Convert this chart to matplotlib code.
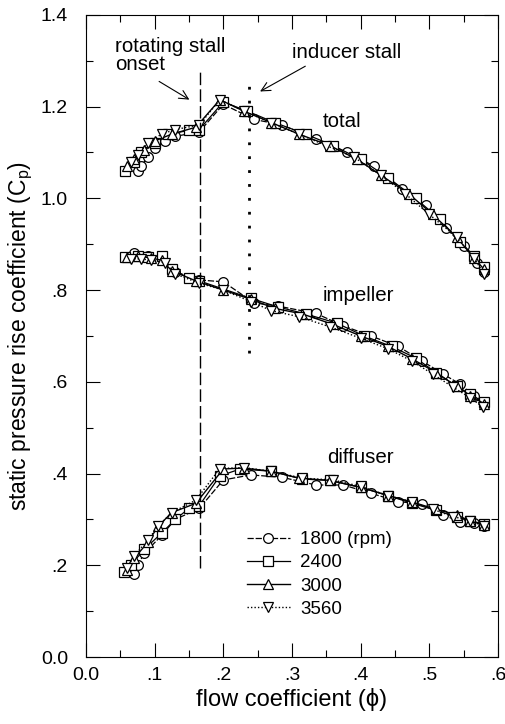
import matplotlib
matplotlib.use("Agg")
import matplotlib.pyplot as plt
from matplotlib.ticker import MultipleLocator, FixedLocator

plt.rcParams['font.family'] = ['Liberation Sans', 'DejaVu Sans']
plt.rcParams['mathtext.fontset'] = 'custom'
plt.rcParams['mathtext.rm'] = 'Liberation Sans'
plt.rcParams['mathtext.it'] = 'Liberation Sans:italic'

speeds = ['1800 (rpm)', '2400', '3000', '3560']

# total
tot_x_1800 = [0.075, 0.08, 0.09, 0.10, 0.115, 0.13, 0.165, 0.20, 0.245, 0.285, 0.335, 0.38, 0.42, 0.46, 0.495, 0.525, 0.55, 0.57, 0.58]
tot_y_1800 = [1.06, 1.07, 1.09, 1.11, 1.125, 1.135, 1.145, 1.205, 1.172, 1.16, 1.13, 1.10, 1.07, 1.02, 0.985, 0.935, 0.895, 0.86, 0.84]
tot_x_2400 = [0.057, 0.07, 0.08, 0.10, 0.12, 0.15, 0.165, 0.20, 0.235, 0.275, 0.32, 0.36, 0.40, 0.44, 0.48, 0.515, 0.545, 0.565, 0.58]
tot_y_2400 = [1.06, 1.08, 1.10, 1.12, 1.14, 1.148, 1.15, 1.21, 1.19, 1.165, 1.14, 1.115, 1.085, 1.045, 1.0, 0.955, 0.905, 0.875, 0.85]
tot_x_3000 = [0.06, 0.07, 0.085, 0.10, 0.125, 0.16, 0.195, 0.23, 0.27, 0.31, 0.355, 0.395, 0.43, 0.47, 0.505, 0.54, 0.565, 0.58]
tot_y_3000 = [1.07, 1.085, 1.105, 1.125, 1.14, 1.155, 1.215, 1.19, 1.165, 1.14, 1.115, 1.085, 1.05, 1.01, 0.965, 0.915, 0.87, 0.845]
tot_x_3560 = [0.065, 0.075, 0.09, 0.11, 0.13, 0.165, 0.195, 0.23, 0.27, 0.31, 0.35, 0.39, 0.43, 0.465, 0.50, 0.54, 0.565, 0.58]
tot_y_3560 = [1.08, 1.095, 1.12, 1.14, 1.15, 1.16, 1.215, 1.19, 1.165, 1.14, 1.115, 1.09, 1.05, 1.01, 0.965, 0.915, 0.87, 0.835]

# impeller
imp_x_1800 = [0.07, 0.09, 0.11, 0.13, 0.165, 0.20, 0.245, 0.28, 0.335, 0.375, 0.415, 0.455, 0.49, 0.52, 0.545, 0.565, 0.58]
imp_y_1800 = [0.88, 0.875, 0.87, 0.84, 0.822, 0.818, 0.772, 0.765, 0.749, 0.722, 0.70, 0.677, 0.645, 0.617, 0.595, 0.57, 0.553]
imp_x_2400 = [0.057, 0.075, 0.09, 0.11, 0.125, 0.15, 0.165, 0.24, 0.28, 0.32, 0.365, 0.405, 0.445, 0.48, 0.51, 0.54, 0.56, 0.58]
imp_y_2400 = [0.873, 0.875, 0.872, 0.875, 0.845, 0.826, 0.82, 0.782, 0.763, 0.748, 0.728, 0.70, 0.677, 0.652, 0.62, 0.59, 0.573, 0.555]
imp_x_3000 = [0.06, 0.075, 0.095, 0.11, 0.125, 0.16, 0.20, 0.24, 0.275, 0.315, 0.36, 0.40, 0.44, 0.475, 0.51, 0.54, 0.56, 0.58]
imp_y_3000 = [0.872, 0.874, 0.87, 0.865, 0.842, 0.82, 0.80, 0.78, 0.76, 0.748, 0.725, 0.70, 0.677, 0.65, 0.62, 0.59, 0.57, 0.552]
imp_x_3560 = [0.065, 0.08, 0.095, 0.115, 0.13, 0.165, 0.20, 0.24, 0.27, 0.31, 0.355, 0.40, 0.44, 0.475, 0.505, 0.535, 0.56, 0.578]
imp_y_3560 = [0.868, 0.868, 0.865, 0.86, 0.835, 0.815, 0.80, 0.775, 0.755, 0.742, 0.72, 0.695, 0.672, 0.645, 0.617, 0.588, 0.565, 0.545]

# diffuser
dif_x_1800 = [0.07, 0.075, 0.085, 0.11, 0.13, 0.165, 0.20, 0.24, 0.285, 0.335, 0.375, 0.415, 0.455, 0.49, 0.52, 0.545, 0.565, 0.58]
dif_y_1800 = [0.182, 0.20, 0.226, 0.265, 0.30, 0.324, 0.386, 0.397, 0.392, 0.375, 0.375, 0.357, 0.339, 0.333, 0.31, 0.295, 0.292, 0.285]
dif_x_2400 = [0.055, 0.065, 0.085, 0.11, 0.13, 0.15, 0.165, 0.195, 0.225, 0.27, 0.315, 0.355, 0.40, 0.44, 0.475, 0.51, 0.54, 0.56, 0.58]
dif_y_2400 = [0.186, 0.20, 0.235, 0.27, 0.30, 0.324, 0.33, 0.395, 0.41, 0.405, 0.388, 0.385, 0.37, 0.352, 0.335, 0.32, 0.305, 0.297, 0.29]
dif_x_3000 = [0.06, 0.07, 0.09, 0.105, 0.125, 0.16, 0.20, 0.23, 0.27, 0.31, 0.355, 0.40, 0.44, 0.475, 0.51, 0.54, 0.56, 0.58]
dif_y_3000 = [0.19, 0.215, 0.25, 0.285, 0.315, 0.335, 0.41, 0.412, 0.405, 0.39, 0.385, 0.37, 0.352, 0.338, 0.322, 0.31, 0.296, 0.288]
dif_x_3560 = [0.06, 0.07, 0.09, 0.105, 0.125, 0.16, 0.195, 0.23, 0.27, 0.315, 0.36, 0.40, 0.44, 0.475, 0.505, 0.535, 0.56, 0.58]
dif_y_3560 = [0.195, 0.22, 0.255, 0.285, 0.315, 0.342, 0.411, 0.413, 0.405, 0.39, 0.386, 0.372, 0.352, 0.338, 0.322, 0.306, 0.297, 0.285]

x_ticks = [0.0, 0.1, 0.2, 0.3, 0.4, 0.5, 0.6]
x_labels = ['0.0', '.1', '.2', '.3', '.4', '.5', '.6']
y_ticks = [0.0, 0.2, 0.4, 0.6, 0.8, 1.0, 1.2, 1.4]
y_labels = ['0.0', '.2', '.4', '.6', '.8', '1.0', '1.2', '1.4']

stall_onset_x = 0.166
inducer_stall_x = 0.237

fig = plt.figure(figsize=(5.06, 7.24), dpi=100)
ax = fig.add_axes([0.170, 0.0925, 0.814, 0.887])

styles = [
    dict(marker='o', linestyle=(0, (5, 1.5)), lw=0.9),
    dict(marker='s', linestyle='-', lw=0.9),
    dict(marker='^', linestyle='-', lw=1.0),
    dict(marker='v', linestyle=(0, (1, 1.5)), lw=1.0),
]
groups = [
    [(tot_x_1800, tot_y_1800), (tot_x_2400, tot_y_2400), (tot_x_3000, tot_y_3000), (tot_x_3560, tot_y_3560)],
    [(imp_x_1800, imp_y_1800), (imp_x_2400, imp_y_2400), (imp_x_3000, imp_y_3000), (imp_x_3560, imp_y_3560)],
    [(dif_x_1800, dif_y_1800), (dif_x_2400, dif_y_2400), (dif_x_3000, dif_y_3000), (dif_x_3560, dif_y_3560)],
]
handles = []
for gi, grp in enumerate(groups):
    for si, (xs, ys) in enumerate(grp):
        st = styles[si]
        h, = ax.plot(xs, ys, color='black', marker=st['marker'], linestyle=st['linestyle'],
                     lw=st['lw'], markersize=7, markerfacecolor='white',
                     markeredgecolor='black', markeredgewidth=0.9,
                     label=speeds[si] if gi == 0 else None)
        if gi == 0:
            handles.append(h)

ax.plot([stall_onset_x, stall_onset_x], [0.194, 1.284], color='black', lw=1.0,
        linestyle=(0, (9, 3)))
ax.plot([inducer_stall_x, inducer_stall_x], [0.663, 1.263], color='black', lw=2.0,
        linestyle=(0, (1, 4)))

ax.annotate('', xy=(0.154, 1.212), xytext=(0.103, 1.258),
            arrowprops=dict(arrowstyle='->', color='black', lw=0.8, mutation_scale=16))
ax.annotate('', xy=(0.250, 1.230), xytext=(0.323, 1.291),
            arrowprops=dict(arrowstyle='->', color='black', lw=0.8, mutation_scale=16))
ax.text(0.042, 1.311, 'rotating stall\nonset', fontsize=14.8, ha='left', va='center', linespacing=0.95)
ax.text(0.300, 1.317, 'inducer stall', fontsize=14.8, ha='left', va='center')
ax.text(0.345, 1.167, 'total', fontsize=14.8, ha='left', va='center')
ax.text(0.345, 0.789, 'impeller', fontsize=14.8, ha='left', va='center')
ax.text(0.351, 0.436, 'diffuser', fontsize=14.8, ha='left', va='center')

leg = ax.legend(handles=handles, loc='upper left', bbox_to_anchor=(0.39, 0.196),
                frameon=False, fontsize=13.5, handlelength=2.3, handletextpad=0.55,
                labelspacing=0.32, borderaxespad=0, borderpad=0)

ax.set_xlim(0, 0.6)
ax.set_ylim(0, 1.4)
ax.xaxis.set_major_locator(FixedLocator(x_ticks))
ax.set_xticklabels(x_labels)
ax.yaxis.set_major_locator(FixedLocator(y_ticks))
ax.set_yticklabels(y_labels)
ax.xaxis.set_minor_locator(MultipleLocator(0.05))
ax.yaxis.set_minor_locator(MultipleLocator(0.1))
ax.tick_params(which='both', direction='in', top=True, right=True, labelsize=14, width=0.8)
ax.tick_params(which='major', length=10)
ax.tick_params(axis='x', which='major', pad=7)
ax.tick_params(axis='y', which='major', pad=13)
ax.tick_params(which='minor', length=5)
for sp in ax.spines.values():
    sp.set_linewidth(0.8)

ax.set_xlabel('flow coefficient (\u03d5)', fontsize=17, labelpad=3)
ax.set_ylabel('static pressure rise coefficient (C$_\\mathrm{p}$)', fontsize=16.5, labelpad=4)

fig.savefig('out.png', dpi=100)
